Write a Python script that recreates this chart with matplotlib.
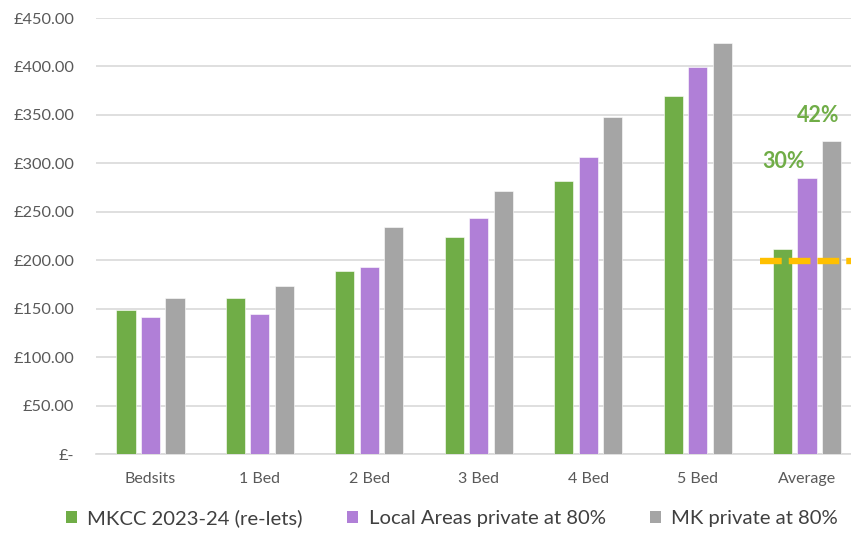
import matplotlib
matplotlib.use("Agg")
import matplotlib.pyplot as plt
from matplotlib.patches import Patch
import numpy as np

plt.rcParams['font.family'] = ['Lato', 'DejaVu Sans']

categories = ["Bedsits", "1 Bed", "2 Bed", "3 Bed", "4 Bed", "5 Bed", "Average"]
series_names = ["MKCC 2023-24 (re-lets)", "Local Areas private at 80%", "MK private at 80%"]
mkcc = [149.1, 161.0, 188.7, 224.4, 281.9, 369.8, 211.4]
local_areas = [141.3, 144.7, 193.5, 244.0, 306.3, 399.8, 285.0]
mk_private = [160.9, 173.9, 234.4, 271.9, 347.6, 424.5, 322.8]
avg_marker = 199.0
pct_labels = ["30%", "42%"]
yticks = [0, 50, 100, 150, 200, 250, 300, 350, 400, 450]
ytick_labels = ["£-", "£50.00", "£100.00", "£150.00", "£200.00", "£250.00",
                "£300.00", "£350.00", "£400.00", "£450.00"]

colors = ["#70AD47", "#B07FD7", "#A5A5A5"]
grid_c = "#D9D9D9"
text_c = "#595959"

W, H = 851, 534
fig = plt.figure(figsize=(W / 100, H / 100), dpi=100)
left_px, right_px = 95.8, 851
bottom_px, top_px = 454.3, 18
ax = fig.add_axes([left_px / W, (H - bottom_px) / H,
                   (right_px - left_px) / W, (bottom_px - top_px) / H])

x = np.arange(len(categories))
bw = 0.174
step = 0.224
for i, (vals, c, name) in enumerate(zip([mkcc, local_areas, mk_private], colors, series_names)):
    ax.bar(x + (i - 1) * step, vals, width=bw, color=c, edgecolor="white",
           linewidth=0.4, label=name, zorder=3)

# orange reference line across the Average group
ax.hlines(avg_marker, 5.571, 6.45, colors="#FFC000", linewidth=4.6,
          linestyles=(0, (3.4, 1.1)), zorder=4)

# percentage uplift labels above the Average group
ax.text(6 - 0.21, local_areas[6] + 17, pct_labels[0], color="#70AD47",
        fontsize=15.5, fontweight="bold", ha="center", va="center")
ax.text(6 + 0.10, mk_private[6] + 27, pct_labels[1], color="#70AD47",
        fontsize=15.5, fontweight="bold", ha="center", va="center")

ax.set_xlim(-0.5, 6.402)
ax.set_ylim(0, 450)
ax.set_yticks(yticks)
ax.set_yticklabels(ytick_labels)
ax.set_xticks(x)
ax.set_xticklabels(categories)
ax.tick_params(axis="y", length=0, pad=15.5, labelsize=11.8, labelcolor=text_c)
ax.tick_params(axis="x", length=0, pad=12.5, labelsize=11.5, labelcolor=text_c)
ax.yaxis.grid(True, color=grid_c, linewidth=1.2, zorder=0)
ax.set_axisbelow(True)
for s in ["top", "right", "left"]:
    ax.spines[s].set_visible(False)
ax.spines["bottom"].set_color(grid_c)
ax.spines["bottom"].set_linewidth(1.2)

handles = [Patch(facecolor=c, edgecolor="none") for c in colors]
fig.legend(handles, series_names, loc="center", bbox_to_anchor=(452 / W, (H - 518) / H),
           ncol=3, frameon=False, fontsize=14.6, handlelength=0.55, handleheight=0.55,
           handletextpad=0.5, columnspacing=2.2, labelcolor="#404040")

fig.savefig("out.png", dpi=100)
